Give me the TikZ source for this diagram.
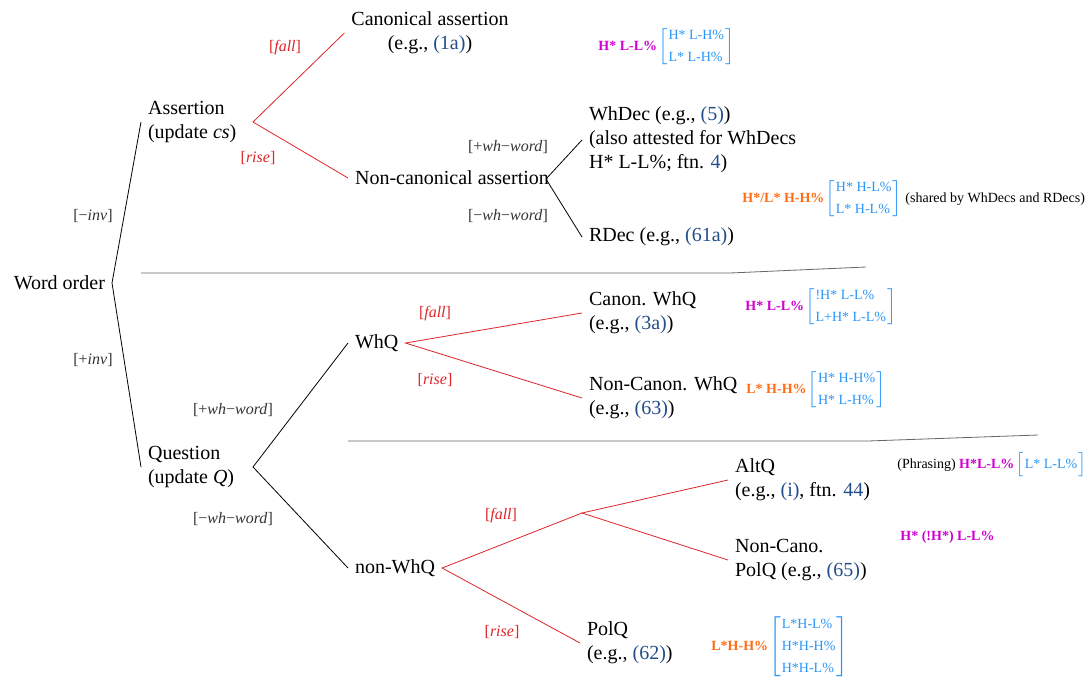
\documentclass[tikz,border=0pt]{standalone}
\usepackage{fontspec}
\setmainfont{Liberation Serif}
\usepackage{tikz}

\definecolor{fallred}{RGB}{222,36,40}
\definecolor{refblue}{RGB}{36,78,138}
\definecolor{tonemag}{RGB}{208,0,208}
\definecolor{toneora}{RGB}{255,108,20}
\definecolor{toneblue}{RGB}{40,150,250}

\newcommand{\rf}[1]{\textcolor{refblue}{#1}}
\newcommand{\tmag}[1]{\textcolor{tonemag}{\bfseries #1}}
\newcommand{\tora}[1]{\textcolor{toneora}{\bfseries #1}}
\newcommand{\tbr}[1]{\hspace{0.5pt}\textcolor{toneblue}{$\left[\begin{tabular}{@{\hspace{0.5pt}}l@{\hspace{0.5pt}}}#1\end{tabular}\right]$}}

\begin{document}
\begin{tikzpicture}[x=0.5pt,y=-0.5pt,
  txt/.style={anchor=west,align=left},
  lbl/.style={font=\footnotesize,text=black!80},
  rlbl/.style={font=\footnotesize,text=fallred},
  tone/.style={anchor=west,inner sep=0pt,font=\scriptsize},
  redline/.style={draw=fallred},
  sepline/.style={draw=black!60}]
\useasboundingbox (0,0) rectangle (1089,681);

% main categories
\node[anchor=east] (wo) at (112,283) {Word order};
\node[txt] (asr) at (141,122) {Assertion\\(update \textit{cs})};
\node[txt] (qst) at (141,467) {Question\\(update \textit{Q})};

% assertions
\node[align=center] (can) at (430,33) {Canonical assertion\\(e.g., \rf{(1a)})};
\node[txt] (nca) at (348,178) {Non-canonical assertion};
\node[txt] (whd) at (582,140) {WhDec (e.g., \rf{(5)})\\(also attested for WhDecs\\H* L-L\%; ftn. \rf{4})};
\node[txt] (rdc) at (582,237) {RDec (e.g., \rf{(61a)})};

% questions
\node[txt] (whq) at (348,343) {WhQ};
\node[txt] (nwq) at (348,568) {non-WhQ};
\node[txt] (cwq) at (582,313) {Canon. WhQ\\(e.g., \rf{(3a)})};
\node[txt] (ncw) at (582,398) {Non-Canon. WhQ\\(e.g., \rf{(63)})};
\node[txt] (alt) at (728,480) {AltQ\\(e.g., \rf{(i)}, ftn. \rf{44})};
\node[txt] (ncp) at (728,560) {Non-Cano.\\PolQ (e.g., \rf{(65)})};
\node[txt] (pol) at (580,643) {PolQ\\(e.g., \rf{(62)})};

\coordinate (asr-br) at (253,122);
\coordinate (qst-br) at (253,467);
\coordinate (nca-br) at (546,179);
\coordinate (fall-br) at (582,513);

\draw (wo.east) -- (asr.west);
\draw (wo.east) -- (qst.west);
\draw[redline] (can.west) -- (asr-br) -- (nca.west);
\draw (whd.west) -- (nca-br) -- (rdc.west);
\draw (whq.west) -- (qst-br) -- (nwq.west);
\draw[redline] (cwq.west) -- (whq.east) -- (ncw.west);
\draw[redline] (alt.west) -- (fall-br) -- (ncp.west);
\draw[redline] (fall-br) -- (nwq.east) -- (pol.west);

% feature labels
\node[lbl] (l-ninv) at (93,216) {[−\textit{inv}]};
\node[lbl] (l-pinv) at (93,360) {[+\textit{inv}]};
\node[rlbl] (l-afall) at (285,48) {[\textit{fall}]};
\node[rlbl] (l-arise) at (258,158) {[\textit{rise}]};
\node[lbl] (l-dpwh) at (508,147) {[+\textit{wh}−\textit{word}]};
\node[lbl] (l-dnwh) at (508,216) {[−\textit{wh}−\textit{word}]};
\node[lbl] (l-qpwh) at (233,410) {[+\textit{wh}−\textit{word}]};
\node[lbl] (l-qnwh) at (233,519) {[−\textit{wh}−\textit{word}]};
\node[rlbl] (l-wfall) at (435,314) {[\textit{fall}]};
\node[rlbl] (l-wrise) at (435,380) {[\textit{rise}]};
\node[rlbl] (l-pfall) at (501,516) {[\textit{fall}]};
\node[rlbl] (l-prise) at (502,632) {[\textit{rise}]};

% separators
\draw[sepline] (141,273) -- (730,273) -- (866,267);
\draw[sepline] (348,441) -- (868,441) -- (1038,435);

% tunes
\node[tone] (t-can) at (598,47) {\tmag{H* L-L\%}\tbr{H* L-H\%\\[3pt]L* L-H\%}};
\node[tone] (t-dec) at (742,199) {\tora{H*/L* H-H\%}\tbr{H* H-L\%\\[3pt]L* H-L\%} (shared by WhDecs and RDecs)};
\node[tone] (t-cwq) at (745,307) {\tmag{H* L-L\%}\tbr{!H* L-L\%\\[3pt]L+H* L-L\%}};
\node[tone] (t-ncw) at (746,390) {\tora{L* H-H\%}\tbr{H* H-H\%\\[3pt]H* L-H\%}};
\node[tone] (t-alt) at (897,465) {(Phrasing) \tmag{H*L-L\%}\tbr{L* L-L\%}};
\node[tone] (t-ncp) at (900,537) {\tmag{H* (!H*) L-L\%}};
\node[tone] (t-pol) at (711,647) {\tora{L*H-H\%}\tbr{L*H-L\%\\[3pt]H*H-H\%\\[3pt]H*H-L\%}};
\end{tikzpicture}
\end{document}
